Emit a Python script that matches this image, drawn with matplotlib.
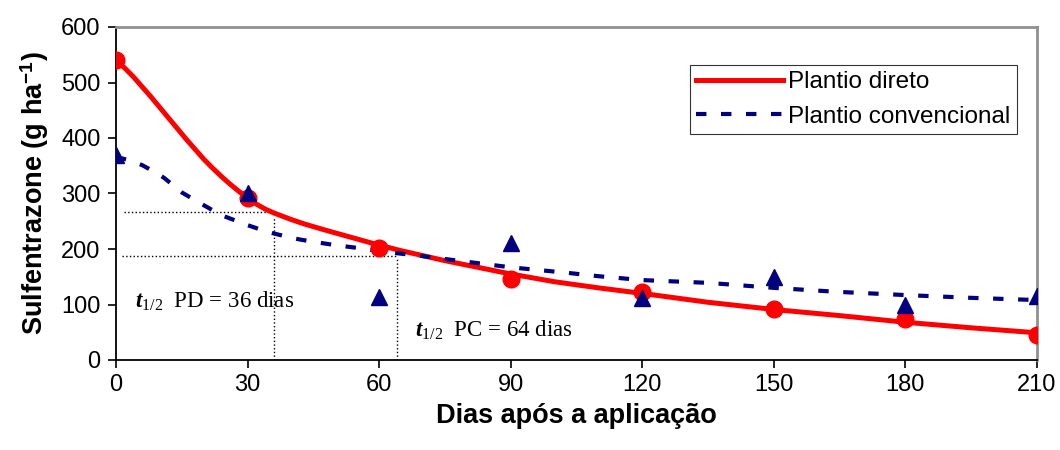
import matplotlib.pyplot as plt
import matplotlib as mpl

mpl.rcParams['font.family'] = ['Liberation Sans', 'DejaVu Sans']
mpl.rcParams['mathtext.fontset'] = 'custom'
mpl.rcParams['mathtext.rm'] = 'Liberation Serif'
mpl.rcParams['mathtext.it'] = 'Liberation Serif:italic'
mpl.rcParams['mathtext.bf'] = 'Liberation Serif:bold'
mpl.rcParams['mathtext.bfit'] = 'Liberation Serif:italic:bold'
mpl.rcParams['mathtext.sf'] = 'Liberation Sans:bold'

# pontos observados
dias = [0, 30, 60, 90, 120, 150, 180, 210]
pd_obs = [540, 292, 202, 146, 122, 92, 74, 45]
pc_obs = [370, 300, 113, 211, 112, 150, 100, 116]

# curvas ajustadas
dias_pd = [0, 2, 4, 6, 8, 10, 12, 14, 16, 18, 20, 22, 24, 26, 28, 30, 32, 34, 36,
           38, 40, 43, 46, 50, 55, 60, 65, 70, 75, 80, 85, 90, 95, 100, 110, 120,
           135, 150, 165, 180, 195, 210]
pd_fit = [540, 526, 510, 492, 474, 455, 436, 417, 398, 380, 362, 346, 331, 317,
          304, 292, 281, 272, 265, 259, 253, 245, 238, 229, 218, 207, 197, 188,
          179, 171, 163, 155, 148, 141, 130, 120, 104, 91, 80, 68, 58, 49]
dias_pc = [0, 3, 6, 9, 11, 13, 15, 18, 20, 22, 24, 27, 30, 33, 36, 39, 42, 45, 50,
           56, 61, 68, 80, 90, 103, 110, 120, 135, 150, 164, 180, 195, 210]
pc_fit = [366, 360, 351, 338, 328, 315, 302, 288, 279, 270, 261, 252, 243, 235,
          228, 222, 217, 213, 207, 201, 195, 189, 177, 167, 157, 151, 144, 139,
          130, 123, 117, 112, 108]

# meia-vida
t_pd, c_pd = 36, 267
t_pc, c_pc = 64, 187

fig = plt.figure(figsize=(10.6, 4.5), dpi=100)
ax = fig.add_axes([0.1094, 0.2, 0.8689, 0.74])

ax.plot(dias_pd, pd_fit, color='#FF0000', lw=3.6, label='Plantio direto', zorder=3)
ax.plot(dias_pc, pc_fit, color='#000080', lw=3.0, ls=(0, (2.5, 3.5)),
        label='Plantio convencional', zorder=3)
ax.plot(dias, pd_obs, 'o', color='#FF0000', ms=12, zorder=4)
ax.plot(dias, pc_obs, '^', color='#000080', ms=12, zorder=5)

# linhas pontilhadas
ax.plot([1.8, t_pd], [c_pd, c_pd], color='black', lw=1, ls=':', zorder=2)
ax.plot([t_pd, t_pd], [0, c_pd - 10], color='black', lw=1, ls=':', zorder=2)
ax.plot([1.3, t_pc], [c_pc, c_pc], color='black', lw=1, ls=':', zorder=2)
ax.plot([t_pc, t_pc], [0, c_pc - 5], color='black', lw=1, ls=':', zorder=2)

ax.text(4.3, 105, r'$\mathbfit{t}_{\mathrm{1/2}}$  PD = 36 dias', fontsize=16.5,
        family='Liberation Serif', va='center')
ax.text(68.2, 53, r'$\mathbfit{t}_{\mathrm{1/2}}$  PC = 64 dias', fontsize=16.5,
        family='Liberation Serif', va='center')

ax.set_xlim(0, 210)
ax.set_ylim(0, 600)
ax.set_xticks(dias)
ax.set_yticks(range(0, 601, 100))
ax.tick_params(labelsize=17, length=6, width=1.2)
ax.tick_params(axis='x', pad=4)
ax.tick_params(axis='y', pad=5)

for s in ['top', 'right']:
    ax.spines[s].set_color('#909090')
    ax.spines[s].set_linewidth(2)
for s in ['left', 'bottom']:
    ax.spines[s].set_linewidth(1.3)

ax.set_xlabel('Dias após a aplicação', fontsize=19.5, fontweight='bold', labelpad=5)
ax.set_ylabel(r'Sulfentrazone (g ha$^{\mathsf{-1}}$)', fontsize=19.5, fontweight='bold',
              labelpad=7)

leg = ax.legend(loc='upper left', bbox_to_anchor=(0.623, 0.885), fontsize=17.5,
                frameon=True, fancybox=False, edgecolor='black', handlelength=3.6,
                handletextpad=0.2, borderpad=0.25, labelspacing=0.5,
                borderaxespad=0)
leg.get_frame().set_linewidth(0.8)

fig.savefig('out.png', dpi=100)
